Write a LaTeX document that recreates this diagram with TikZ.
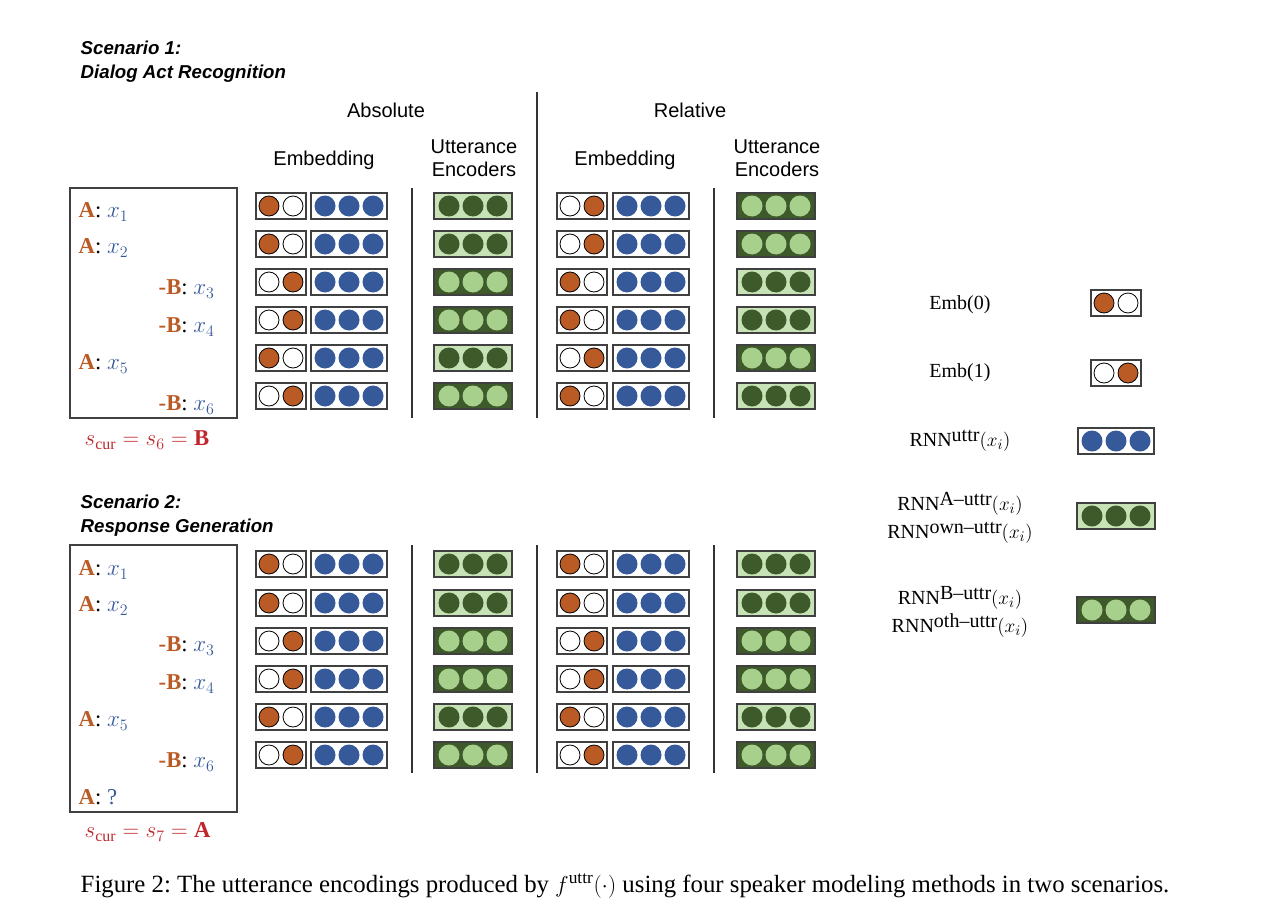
\documentclass[tikz,border=0pt]{standalone}
\usepackage{fontspec}
\setmainfont{Liberation Serif}
\newfontfamily\sans{Liberation Sans}
\begin{document}
\definecolor{org}{HTML}{BA5B26}
\definecolor{blu}{HTML}{36599A}
\definecolor{dgr}{HTML}{3E5A2A}
\definecolor{lgb}{HTML}{C7E2B6}
\definecolor{lgd}{HTML}{A8D08D}
\definecolor{rd}{HTML}{C0272D}
\tikzset{
 bx/.style={draw=black!75,line width=0.9pt},
 hd/.style={font=\sans\fontsize{15}{17}\selectfont,align=center},
 sc/.style={font=\sans\bfseries\itshape\fontsize{14}{16}\selectfont,anchor=west},
 lg/.style={font=\fontsize{15}{21}\selectfont,align=center},
 dl/.style={font=\fontsize{17}{19}\selectfont,anchor=west},
 sep/.style={draw=black!80,line width=0.9pt},
 pics/emb0/.style={code={\draw[bx,fill=white](-25,-13) rectangle (25,13);
   \draw[fill=org,line width=0.6pt](-12,0) circle (10); \draw[fill=white,line width=0.6pt](12,0) circle (10);}},
 pics/emb1/.style={code={\draw[bx,fill=white](-25,-13) rectangle (25,13);
   \draw[fill=white,line width=0.6pt](-12,0) circle (10); \draw[fill=org,line width=0.6pt](12,0) circle (10);}},
 pics/blue/.style={code={\draw[bx,fill=white](-38,-13) rectangle (38,13);
   \foreach \d in {-24,0,24}{\fill[blu](\d,0) circle (10.5);}}},
 pics/encA/.style={code={\draw[bx,fill=lgb](-39,-13) rectangle (39,13);
   \foreach \d in {-24,0,24}{\fill[dgr](\d,0) circle (10.5);}}},
 pics/encB/.style={code={\draw[bx,fill=dgr](-39,-13) rectangle (39,13);
   \foreach \d in {-24,0,24}{\fill[lgd](\d,0) circle (10.5);}}},
}
\newcommand\spk[1]{\textcolor{org}{\textbf{#1}}}
\newcommand\xx[1]{\textcolor{blu}{$x_{#1}$}}
\newcommand\rnn[1]{RNN\raisebox{0.55ex}{#1}$(x_i)$}
\begin{tikzpicture}[x=0.75pt,y=-0.75pt]
\useasboundingbox (0,0) rectangle (1284,920);
% headers
\node[sc] (s1a) at (76,48) {Scenario 1:};
\node[sc] (s1b) at (76,74) {Dialog Act Recognition};
\node[hd] (abs) at (386,110) {Absolute};
\node[hd] (rel) at (690,110) {Relative};
\node[hd] (e1) at (324,160) {Embedding};
\node[hd] (u1) at (474,158) {Utterance\\Encoders};
\node[hd] (e2) at (625,160) {Embedding};
\node[hd] (u2) at (777,158) {Utterance\\Encoders};
\node[sc] (s2a) at (76,502) {Scenario 2:};
\node[sc] (s2b) at (76,528) {Response Generation};
% separators
\draw[sep] (537,92) -- (537,418);
\draw[sep] (412,188) -- (412,418);
\draw[sep] (714,188) -- (714,418);
\draw[sep] (412,545) -- (412,773);
\draw[sep] (537,545) -- (537,773);
\draw[sep] (714,545) -- (714,773);
% scenario 1 rows
\foreach \y/\ae/\ac/\re/\rc in {206/emb0/encA/emb1/encB,244/emb0/encA/emb1/encB,282/emb1/encB/emb0/encA,320/emb1/encB/emb0/encA,358/emb0/encA/emb1/encB,396/emb1/encB/emb0/encA}{
  \pic at (281,\y) {\ae}; \pic at (349,\y) {blue}; \pic at (473,\y) {\ac};
  \pic at (582,\y) {\re}; \pic at (651,\y) {blue}; \pic at (776,\y) {\rc};
}
% scenario 2 rows
\foreach \y/\ae/\ac in {564/emb0/encA,603/emb0/encA,641/emb1/encB,679/emb1/encB,717/emb0/encA,755/emb1/encB}{
  \pic at (281,\y) {\ae}; \pic at (349,\y) {blue}; \pic at (473,\y) {\ac};
  \pic at (582,\y) {\ae}; \pic at (651,\y) {blue}; \pic at (776,\y) {\ac};
}
% dialogues
\draw[bx] (70,188) rectangle (237,418);
\node[dl] (d11) at (74,212) {\spk{A}: \xx1};
\node[dl] (d12) at (74,248) {\spk{A}: \xx2};
\node[dl] (d13) at (154,289) {\spk{-B}: \xx3};
\node[dl] (d14) at (154,327) {\spk{-B}: \xx4};
\node[dl] (d15) at (74,364) {\spk{A}: \xx5};
\node[dl] (d16) at (154,405) {\spk{-B}: \xx6};
\node[dl,text=rd] (sc1) at (80,440) {$s_{\mathrm{cur}}=s_6=\mathbf{B}$};
\draw[bx] (70,545) rectangle (237,812);
\node[dl] (d21) at (74,570) {\spk{A}: \xx1};
\node[dl] (d22) at (74,606) {\spk{A}: \xx2};
\node[dl] (d23) at (154,646) {\spk{-B}: \xx3};
\node[dl] (d24) at (154,684) {\spk{-B}: \xx4};
\node[dl] (d25) at (74,721) {\spk{A}: \xx5};
\node[dl] (d26) at (154,762) {\spk{-B}: \xx6};
\node[dl] (d27) at (74,797) {\spk{A}: \textcolor{blu}{?}};
\node[dl,text=rd] (sc2) at (80,832) {$s_{\mathrm{cur}}=s_7=\mathbf{A}$};
% legend
\node[lg] (l1) at (960,305) {Emb(0)};
\pic at (1116,303) {emb0};
\node[lg] (l2) at (960,373) {Emb(1)};
\pic at (1116,373) {emb1};
\node[lg] (l3) at (960,441) {\rnn{uttr}};
\pic at (1116,441) {blue};
\node[lg] (l4) at (960,518) {\rnn{A--uttr}\\\rnn{own--uttr}};
\pic at (1116,516) {encA};
\node[lg] (l5) at (960,612) {\rnn{B--uttr}\\\rnn{oth--uttr}};
\pic at (1116,610) {encB};
% caption
\node[anchor=west,font=\fontsize{18.6}{20}\selectfont] (cap) at (76,886) {Figure 2:\ The utterance encodings produced by $f^{\mathrm{uttr}}(\cdot)$ using four speaker modeling methods in two scenarios.};
\end{tikzpicture}
\end{document}
